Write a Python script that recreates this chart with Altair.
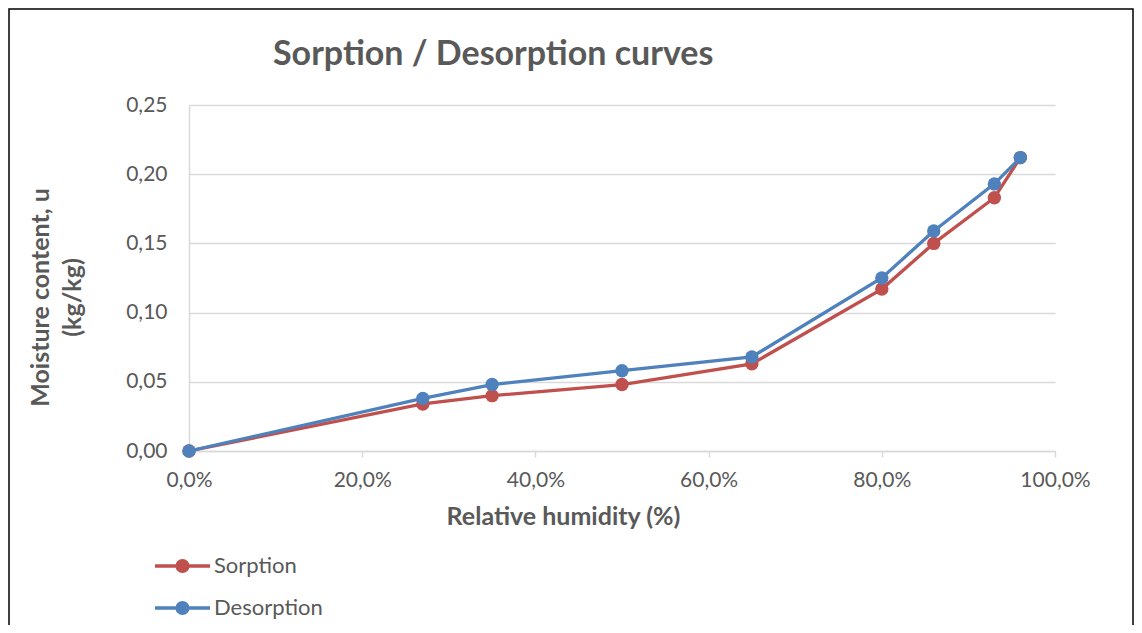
import altair as alt
import pandas as pd

# ---- data ----
rh = [0, 27, 35, 50, 65, 80, 86, 93, 96]
sorption = [0.000, 0.034, 0.040, 0.048, 0.063, 0.117, 0.150, 0.183, 0.212]
desorption = [0.000, 0.038, 0.048, 0.058, 0.068, 0.125, 0.159, 0.193, 0.212]
series_names = ["Sorption", "Desorption"]
series_values = [sorption, desorption]
series_colors = ["#C0504D", "#4F81BD"]
x_ticks = [0, 20, 40, 60, 80, 100]
y_ticks = [0.0, 0.05, 0.10, 0.15, 0.20, 0.25]
title_text = "Sorption / Desorption curves"

FONT = "Lato"
TXT = "#595959"
GRID = "#D9D9D9"
W, H = 866, 346

x_enc = alt.X(
    "rh:Q",
    scale=alt.Scale(domain=[0, 100], nice=False),
    axis=alt.Axis(
        values=x_ticks,
        labelExpr="replace(format(datum.value, '.1f'), '.', ',') + '%'",
        grid=False, labelFlush=False,
        domainColor=GRID, domainWidth=1.5,
        tickColor=GRID, tickWidth=1.5, tickSize=6,
        labelPadding=12, labelFont=FONT, labelFontSize=21, labelColor=TXT,
        title="Relative humidity (%)",
        titleFont=FONT, titleFontSize=25, titleFontWeight="bold", titleColor=TXT,
        titleX=374, titleY=65, titleAlign="center", titleBaseline="middle",
    ),
)
y_enc = alt.Y(
    "u:Q",
    scale=alt.Scale(domain=[0, 0.25], nice=False),
    axis=alt.Axis(
        values=y_ticks,
        labelExpr="replace(format(datum.value, '.2f'), '.', ',')",
        grid=True, gridColor=GRID, gridWidth=1.5,
        domainColor=GRID, domainWidth=1.5,
        ticks=False, labelPadding=22, labelFlush=False,
        labelFont=FONT, labelFontSize=21, labelColor=TXT,
        title=["Moisture content, u", "(kg/kg)"],
        titleFont=FONT, titleFontSize=25, titleFontWeight="bold", titleColor=TXT,
        titleAngle=270, titleAlign="center", titleBaseline="top",
        titleX=-161, titleY=192, titleLineHeight=32,
    ),
)

layers = []
for name, vals, col in zip(series_names, series_values, series_colors):
    df = pd.DataFrame({"rh": rh, "u": vals, "series": name})
    layers.append(
        alt.Chart(df).mark_line(
            color=col, strokeWidth=3.3,
            point=alt.OverlayMarkDef(filled=True, color=col, size=180, opacity=1),
        ).encode(x=x_enc, y=y_enc)
    )

one = alt.Data(values=[{}])

# chart title as a text mark (placed above the plot area)
layers.append(alt.Chart(one).mark_text(
    text=title_text, align="left", baseline="alphabetic",
    font=FONT, fontSize=34, fontWeight="bold", color=TXT,
).encode(x=alt.value(84), y=alt.value(-40)))

# manual legend (line + marker + label), positioned below the plot
for i, (name, col) in enumerate(zip(series_names, series_colors)):
    yy = 461 + 42 * i
    layers.append(alt.Chart(one).mark_rule(color=col, strokeWidth=3.3).encode(
        x=alt.value(-34), x2=alt.value(21), y=alt.value(yy)))
    layers.append(alt.Chart(one).mark_point(filled=True, color=col, size=200, opacity=1).encode(
        x=alt.value(-6.5), y=alt.value(yy)))
    layers.append(alt.Chart(one).mark_text(
        text=name, align="left", baseline="middle", font=FONT, fontSize=22, color=TXT
    ).encode(x=alt.value(25), y=alt.value(yy)))

# outer border of the chart area
layers.append(alt.Chart(one).mark_rect(fill=None, stroke="#000000", strokeWidth=1.5).encode(
    x=alt.value(-180), x2=alt.value(W + 78), y=alt.value(-96), y2=alt.value(H + 300)))

chart = alt.layer(*layers).properties(
    width=W, height=H,
    autosize=alt.AutoSizeParams(type="none"),
    padding={"left": 181, "top": 97, "right": 79, "bottom": 174},
    background="white",
).configure_view(stroke=None)

chart.save("out.html", embed_options={"renderer": "svg", "actions": False})
